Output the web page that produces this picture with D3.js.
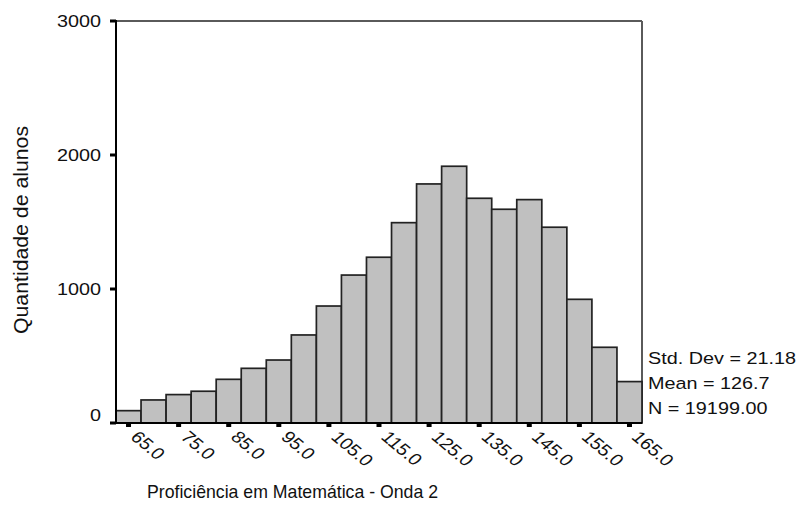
<!DOCTYPE html>
<html>
<head>
<meta charset="utf-8">
<script src="https://cdn.jsdelivr.net/npm/d3@7/dist/d3.min.js"></script>
<style>
  html, body { margin: 0; padding: 0; background: #fff; }
  svg { display: block; }
  text { font-family: "Liberation Sans", Arial, sans-serif; fill: #111; }
</style>
</head>
<body>
<svg id="chart" width="797" height="510"></svg>
<script>
// Histogram of math proficiency (wave 2): bin midpoints and counts per bin
const binMids = [65, 70, 75, 80, 85, 90, 95, 100, 105, 110, 115, 120, 125, 130, 135, 140, 145, 150, 155, 160, 165];
const counts  = [92, 172, 212, 237, 326, 408, 470, 657, 873, 1104, 1237, 1495, 1784, 1916, 1677, 1595, 1667, 1461, 923, 565, 309];
const binWidth = 5;

const xTicks = [65, 75, 85, 95, 105, 115, 125, 135, 145, 155, 165];
const yTicks = [0, 1000, 2000, 3000];

const statLines = ["Std. Dev = 21.18", "Mean = 126.7", "N = 19199.00"];
const xTitle = "Proficiência em Matemática - Onda 2";
const yTitle = "Quantidade de alunos";

const svg = d3.select("#chart");
const plotL = 116, plotR = 642, plotT = 21, plotB = 423;
const stretch = 1.2; // glyphs are drawn slightly wide

const x = d3.scaleLinear()
  .domain([binMids[0] - binWidth / 2, binMids[binMids.length - 1] + binWidth / 2])
  .range([plotL, plotR]);
const y = d3.scaleLinear().domain([0, 3000]).range([plotB, plotT]);

// frame: top and right in grey, left axis and baseline in black
svg.append("line").attr("x1", plotL).attr("x2", plotR).attr("y1", plotT).attr("y2", plotT)
  .attr("stroke", "#5a5a5a").attr("stroke-width", 2);
svg.append("line").attr("x1", plotR).attr("x2", plotR).attr("y1", plotT).attr("y2", plotB)
  .attr("stroke", "#5a5a5a").attr("stroke-width", 2);

// bars
svg.append("g").selectAll("rect")
  .data(binMids.map((m, i) => ({ m, c: counts[i] })))
  .join("rect")
  .attr("x", d => x(d.m - binWidth / 2))
  .attr("width", d => x(d.m + binWidth / 2) - x(d.m - binWidth / 2))
  .attr("y", d => y(d.c))
  .attr("height", d => y(0) - y(d.c))
  .attr("fill", "#c0c0c0")
  .attr("stroke", "#222")
  .attr("stroke-width", 1.7);

svg.append("line").attr("x1", plotL).attr("x2", plotL).attr("y1", plotT - 1).attr("y2", plotB)
  .attr("stroke", "#000").attr("stroke-width", 2);
svg.append("line").attr("x1", plotL - 6).attr("x2", plotR).attr("y1", plotB).attr("y2", plotB)
  .attr("stroke", "#000").attr("stroke-width", 2);

// y ticks and labels
const yg = svg.append("g");
yg.selectAll("rect.tick").data(yTicks).join("rect")
  .attr("class", "tick")
  .attr("x", plotL - 6).attr("width", 6)
  .attr("y", d => y(d) - 1.5).attr("height", 3)
  .attr("fill", "#000");
yg.selectAll("text").data(yTicks).join("text")
  .attr("transform", d => `translate(${plotL - 15},${y(d) + (d === 0 ? -8 : 0)}) scale(${stretch},1)`)
  .attr("text-anchor", "end")
  .attr("dy", "0.36em")
  .style("font-size", "16.5px")
  .text(d => d);

// x ticks and rotated labels
const xg = svg.append("g");
xg.selectAll("rect").data(xTicks).join("rect")
  .attr("x", d => x(d) - 2.5).attr("width", 5)
  .attr("y", plotB).attr("height", 4)
  .attr("fill", "#000");
xg.selectAll("text").data(xTicks).join("text")
  .attr("transform", d => `translate(${x(d) + 6},${plotB + 11}) scale(${stretch},1) rotate(45)`)
  .attr("text-anchor", "start")
  .attr("dy", "0.35em")
  .style("font-size", "16.5px")
  .text(d => d3.format(".1f")(d));

// summary statistics
svg.append("g").selectAll("text").data(statLines).join("text")
  .attr("transform", (d, i) => `translate(648,${364 + i * 25}) scale(${stretch},1)`)
  .style("font-size", "16.5px")
  .text(d => d);

// axis titles
svg.append("text")
  .attr("transform", "translate(147,498)")
  .attr("textLength", 291).attr("lengthAdjust", "spacingAndGlyphs")
  .style("font-size", "17.7px")
  .text(xTitle);

svg.append("text")
  .attr("transform", "translate(28,230) scale(1.15,1) rotate(-90)")
  .attr("text-anchor", "middle")
  .attr("textLength", 208).attr("lengthAdjust", "spacingAndGlyphs")
  .style("font-size", "17px")
  .text(yTitle);
</script>
</body>
</html>
